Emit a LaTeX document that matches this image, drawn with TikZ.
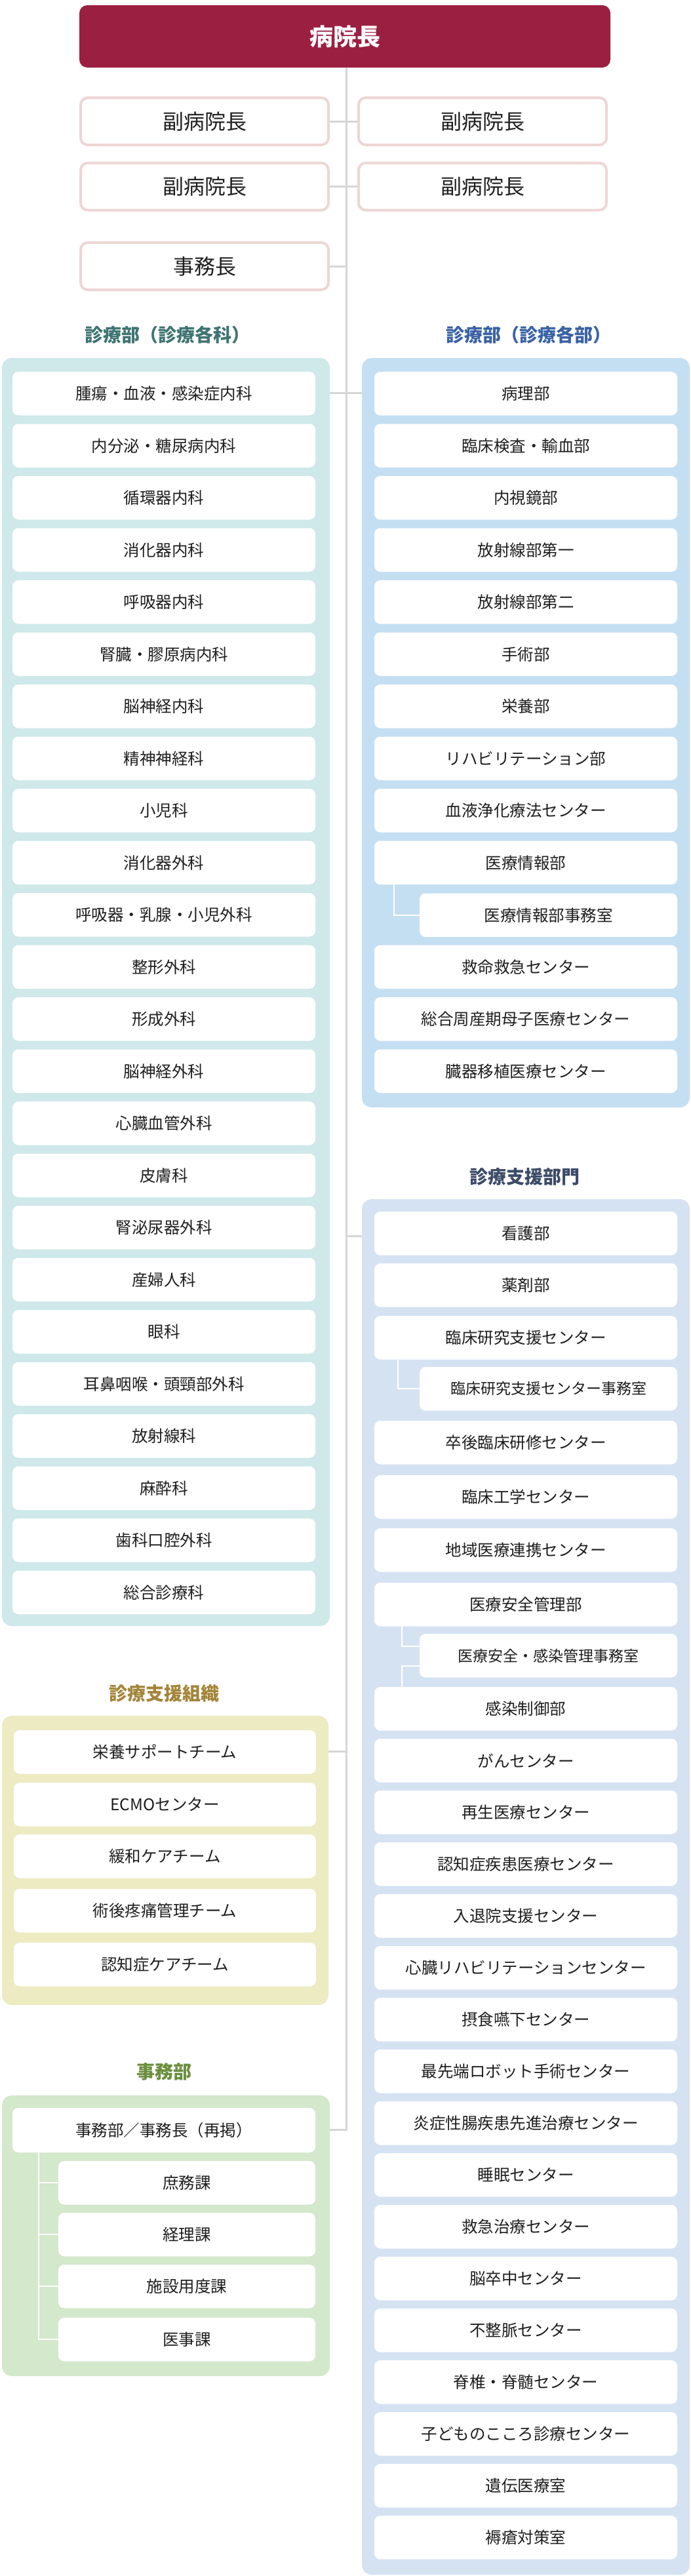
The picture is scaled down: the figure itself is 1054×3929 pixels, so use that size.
\documentclass[tikz,border=0pt]{standalone}
\usepackage{fontspec}
\setmainfont{Noto Sans CJK JP}
\definecolor{chief}{HTML}{9B1F40}
\definecolor{viceb}{HTML}{EFD5D5}
\definecolor{trunkc}{HTML}{D6D6D6}
\definecolor{txt}{HTML}{1E1E1E}
\definecolor{pA}{HTML}{CFE8E9}
\definecolor{pB}{HTML}{C5DFF2}
\definecolor{pC}{HTML}{D5E2F2}
\definecolor{pD}{HTML}{EDEBC2}
\definecolor{pE}{HTML}{D4E8CC}
\definecolor{hA}{HTML}{3F7472}
\definecolor{hB}{HTML}{3A62A5}
\definecolor{hC}{HTML}{3C4B68}
\definecolor{hD}{HTML}{A3853A}
\definecolor{hE}{HTML}{6A8F3E}
\begin{document}
\begin{tikzpicture}[x=1pt,y=-1pt,
  item/.style={fill=white, rounded corners=9pt, minimum width=462pt, minimum height=66.5pt, inner sep=0pt, text=txt, font=\fontsize{24.5pt}{28pt}\selectfont},
  subitem/.style={item, minimum width=393pt},
  smallsub/.style={subitem, font=\fontsize{23pt}{26pt}\selectfont},
  vice/.style={fill=white, draw=viceb, line width=4pt, rounded corners=11pt, minimum width=378pt, minimum height=72pt, inner sep=0pt, text=txt, font=\fontsize{32pt}{36pt}\selectfont},
  head/.style={inner sep=0pt, font=\fontsize{28pt}{32pt}\selectfont\bfseries},
  panel/.style={rounded corners=15pt},
  conn/.style={draw=trunkc, line width=3pt},
  subline/.style={draw=white, line width=2.2pt}
]
\useasboundingbox (0,0) rectangle (1054,3929);
\fill[white] (0,0) rectangle (1054,3929);

% coordinates for the trunk
\coordinate (tk) at (528,0);
\coordinate (tkEnd) at (528,3248);

% panels
\fill[pA, panel] (3,546) rectangle (503,2480);
\fill[pB, panel] (552,546) rectangle (1052,1689);
\fill[pC, panel] (552,1829) rectangle (1052,3927);
\fill[pD, panel] (3,2617) rectangle (501,3058);
\fill[pE, panel] (3,3196) rectangle (503,3624);

% top
\node[fill=chief, rounded corners=12pt, minimum width=810pt, minimum height=95pt, inner sep=0pt, text=white, font=\fontsize{36pt}{40pt}\selectfont\bfseries] (top) at (526,55.5) {病院長};

\node[vice] (V1) at (312,185) {副病院長};
\node[vice] (V2) at (736,185) {副病院長};
\node[vice] (V3) at (312,284.5) {副病院長};
\node[vice] (V4) at (736,284.5) {副病院長};
\node[vice] (V5) at (312,406) {事務長};

% headings
\node[head, text=hA] (HA) at (255,511) {診療部（診療各科）};
\node[head, text=hB] (HB) at (806,511) {診療部（診療各部）};
\node[head, text=hC] (HC) at (800,1795) {診療支援部門};
\node[head, text=hD] (HD) at (250,2583) {診療支援組織};
\node[head, text=hE] (HE) at (250,3160) {事務部};

% panel A items
\foreach \t [count=\i] in {腫瘍・血液・感染症内科, 内分泌・糖尿病内科, 循環器内科, 消化器内科, 呼吸器内科, 腎臓・膠原病内科, 脳神経内科, 精神神経科, 小児科, 消化器外科, 呼吸器・乳腺・小児外科, 整形外科, 形成外科, 脳神経外科, 心臓血管外科, 皮膚科, 腎泌尿器外科, 産婦人科, 眼科, 耳鼻咽喉・頭頸部外科, 放射線科, 麻酔科, 歯科口腔外科, 総合診療科}
  \node[item] (A\i) at (250,{600.25+79.5*(\i-1)}) {\t};

% panel B items
\foreach \i/\t in {1/病理部, 2/臨床検査・輸血部, 3/内視鏡部, 4/放射線部第一, 5/放射線部第二, 6/手術部, 7/栄養部, 8/リハビリテーション部, 9/血液浄化療法センター, 10/医療情報部, 12/救命救急センター, 13/総合周産期母子医療センター, 14/臓器移植医療センター}
  \node[item] (B\i) at (802,{600.25+79.5*(\i-1)}) {\t};
\node[subitem] (B11) at (836.5,1395.75) {医療情報部事務室};

% panel C items
\foreach \i/\y/\t in {1/1848/看護部, 2/1927/薬剤部, 3/2007/臨床研究支援センター, 5/2167/卒後臨床研修センター, 6/2250/臨床工学センター, 7/2331/地域医療連携センター, 8/2414/医療安全管理部, 10/2573/感染制御部, 11/2652/がんセンター, 12/2731/再生医療センター, 13/2810/認知症疾患医療センター, 14/2889/入退院支援センター, 15/2968/心臓リハビリテーションセンター, 16/3047/摂食嚥下センター, 17/3126/最先端ロボット手術センター, 18/3205/炎症性腸疾患先進治療センター, 19/3284/睡眠センター, 20/3363/救急治療センター, 21/3442/脳卒中センター, 22/3521/不整脈センター, 23/3600/脊椎・脊髄センター, 24/3679/子どものこころ診療センター, 25/3758/遺伝医療室, 26/3837/褥瘡対策室}
  \node[item] (C\i) at (802,{\y+33.25}) {\t};
\node[smallsub] (C4) at (836.5,2118.25) {臨床研究支援センター事務室};
\node[smallsub] (C9) at (836.5,2525.25) {医療安全・感染管理事務室};

% panel D items
\foreach \i/\y/\t in {1/2639/栄養サポートチーム, 2/2719/ECMOセンター, 3/2798/緩和ケアチーム, 4/2881/術後疼痛管理チーム, 5/2963/認知症ケアチーム}
  \node[item, minimum width=461pt] (D\i) at (251.5,{\y+33.25}) {\t};

% panel E items
\node[item, minimum height=68pt] (E0) at (250,3249) {事務部／事務長（再掲）};
\foreach \i/\y/\t in {1/3296/庶務課, 2/3375/経理課, 3/3454/施設用度課, 4/3535/医事課}
  \node[item, minimum width=392pt] (E\i) at (285,{\y+33.25}) {\t};

% trunk and connectors
\begin{scope}[on background layer/.try]
\end{scope}
\draw[conn] (top.south -| tk) -- (tkEnd) -- (tkEnd -| 503,0);
\draw[conn] (V1.east) -- (V2.west);
\draw[conn] (V3.east) -- (V4.west);
\draw[conn] (V5.east) -- (V5.east -| tk);
\coordinate (cA) at (0,599);
\draw[conn] (503,599) -- (552,599);
\coordinate (cC) at (552,1885);
\draw[conn] (cC -| tk) -- (cC);
\coordinate (cD) at (501,2671);
\draw[conn] (cD) -- (cD -| tk);

% sub connectors (white)
\coordinate (xb) at (601,0);
\draw[subline] (B10.south -| xb) |- (B11.west);
\coordinate (xc1) at (607,0);
\draw[subline] (C3.south -| xc1) |- (C4.west);
\coordinate (cs2a) at (613,2511);
\coordinate (cs2b) at (613,2541);
\draw[subline] (C8.south -| cs2a) -- (cs2a) -- (C9.west |- cs2a);
\draw[subline] (C10.north -| cs2b) -- (cs2b) -- (C9.west |- cs2b);
\coordinate (ex) at (59,0);
\draw[subline] (E0.south -| ex) -- (ex |- E4.west) -- (E4.west);
\foreach \k in {1,2,3}
  \draw[subline] (ex |- E\k.west) -- (E\k.west);
\end{tikzpicture}
\end{document}
